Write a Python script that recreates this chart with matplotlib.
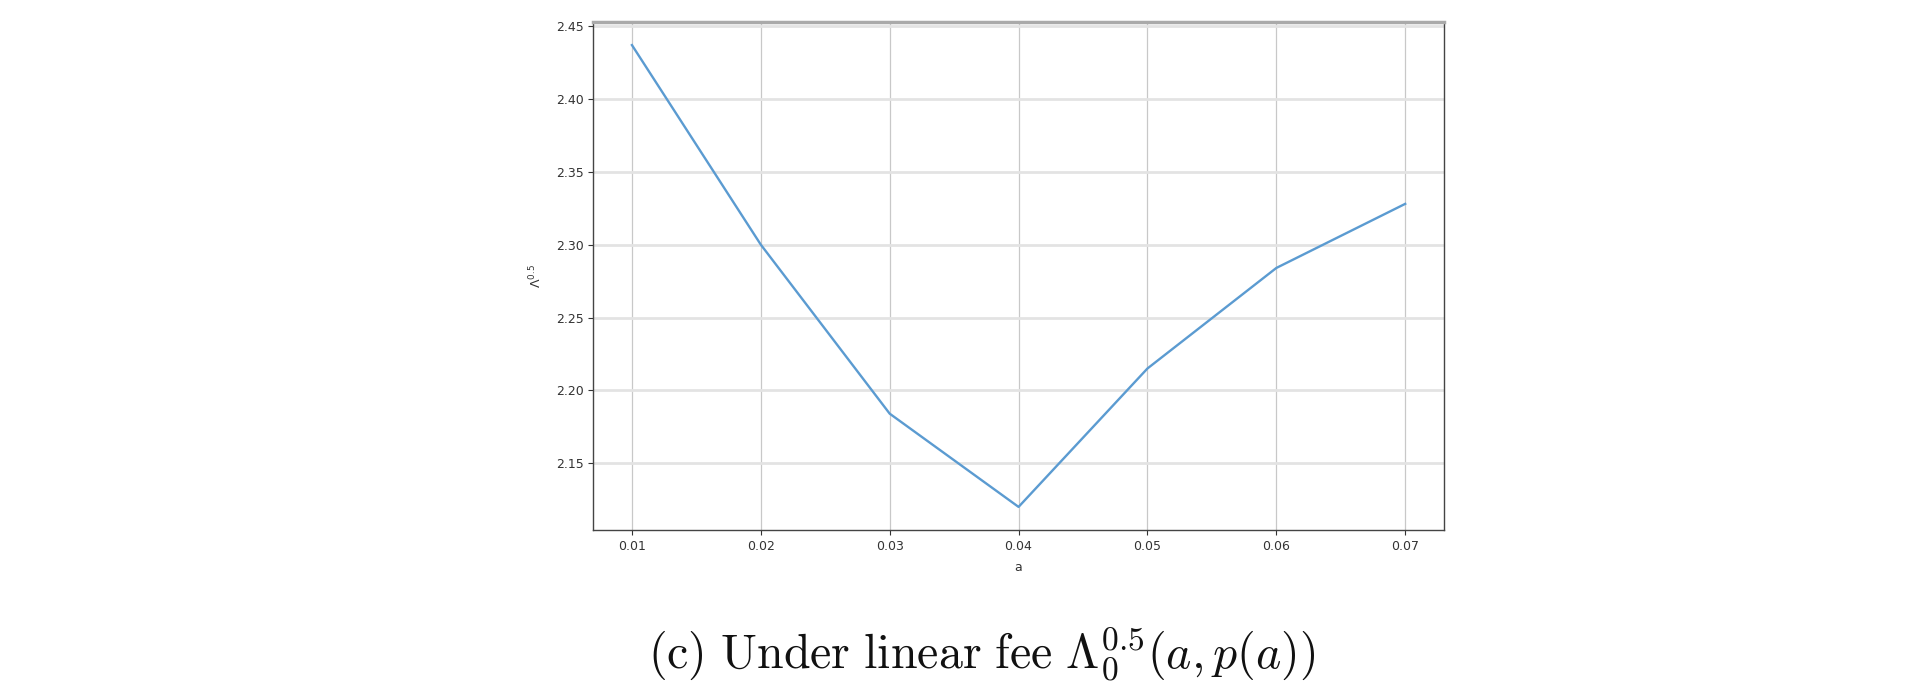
import matplotlib
matplotlib.use("Agg")
import matplotlib.pyplot as plt

# data
a_values = [0.01, 0.02, 0.03, 0.04, 0.05, 0.06, 0.07]
lambda_values = [2.437, 2.300, 2.184, 2.120, 2.215, 2.284, 2.328]
x_ticks = [0.01, 0.02, 0.03, 0.04, 0.05, 0.06, 0.07]
y_ticks = [2.15, 2.20, 2.25, 2.30, 2.35, 2.40, 2.45]
x_label = "a"
y_label = r"$\Lambda^{0.5}$"
caption = r"$\mathrm{(c)\ Under\ linear\ fee\ }\Lambda_0^{0.5}(a,p(a))$"

plt.rcParams["mathtext.fontset"] = "cm"

fig = plt.figure(figsize=(19.2, 6.98), dpi=100)
ax = fig.add_axes([0.309, 0.2407, 0.752 - 0.309, 0.9685 - 0.2407])

ax.plot(a_values, lambda_values, color="#5b9bd1", lw=1.7)

ax.set_xticks(x_ticks)
ax.set_xticklabels([f"{v:.2f}" for v in x_ticks])
ax.set_yticks(y_ticks)
ax.set_yticklabels([f"{v:.2f}" for v in y_ticks])
ax.margins(x=0.05, y=0.05)

ax.tick_params(labelsize=9, colors="#333333", length=3.5, width=0.8)
ax.xaxis.grid(True, color="#c8c8c8", lw=0.9)
ax.yaxis.grid(True, color="#e3e3e3", lw=2.0)
ax.set_axisbelow(True)

for side in ["left", "bottom", "right"]:
    ax.spines[side].set_color("#444444")
    ax.spines[side].set_linewidth(1.0)
ax.spines["top"].set_color("#aaaaaa")
ax.spines["top"].set_linewidth(2.5)

ax.set_xlabel(x_label, fontsize=9, color="#333333", labelpad=6)
ax.set_ylabel(y_label, fontsize=9, color="#333333", labelpad=8,
              math_fontfamily="dejavusans")

fig.text(0.5115, 0.063, caption, fontsize=34.5, ha="center", va="center", color="#111111")

fig.savefig("out.png", dpi=100)
